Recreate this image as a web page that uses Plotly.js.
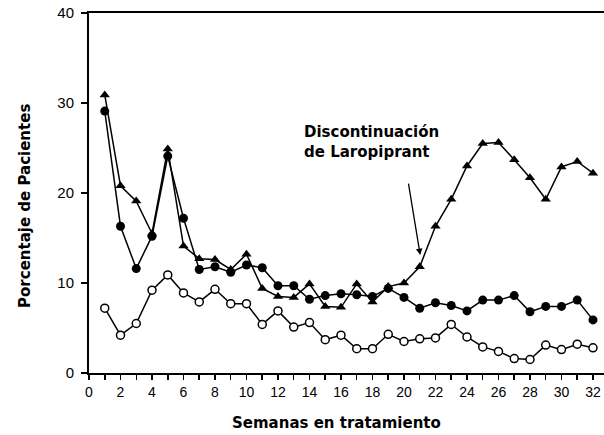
<!DOCTYPE html>
<html>
<head>
<meta charset="utf-8">
<script src="https://cdn.plot.ly/plotly-3.0.1.min.js"></script>
<style>html,body{margin:0;padding:0;background:#fff;}#chart{width:604px;height:435px;}</style>
</head>
<body>
<div id="chart"></div>
<script>
const weeks = [1,2,3,4,5,6,7,8,9,10,11,12,13,14,15,16,17,18,19,20,21,22,23,24,25,26,27,28,29,30,31,32];
const triangleSeries = [30.9,20.8,19.1,15.5,24.9,14.1,12.7,12.6,11.5,13.2,9.4,8.5,8.4,9.9,7.4,7.3,9.9,7.9,9.6,10.0,11.8,16.3,19.3,23.0,25.5,25.6,23.7,21.7,19.3,22.9,23.5,22.2];
const filledSeries = [29.1,16.3,11.6,15.2,24.1,17.2,11.5,11.8,11.2,12.0,11.7,9.7,9.7,8.2,8.6,8.8,8.7,8.5,9.4,8.4,7.2,7.8,7.5,6.9,8.1,8.1,8.6,6.8,7.4,7.4,8.1,5.9];
const openSeries = [7.2,4.2,5.5,9.2,10.9,8.9,7.9,9.3,7.7,7.7,5.4,6.9,5.1,5.6,3.7,4.2,2.7,2.7,4.3,3.5,3.8,3.9,5.4,4.0,2.9,2.4,1.6,1.5,3.1,2.6,3.2,2.8];
const xTickVals = [0,1,2,3,4,5,6,7,8,9,10,11,12,13,14,15,16,17,18,19,20,21,22,23,24,25,26,27,28,29,30,31,32];
const xTickText = ['0','','2','','4','','6','','8','','10','','12','','14','','16','','18','','20','','22','','24','','26','','28','','30','','32'];
const yTickVals = [0,10,20,30,40];
const annotationText = 'Discontinuación<br>de Laropiprant';
const xTitle = 'Semanas en tratamiento';
const yTitle = 'Porcentaje de Pacientes';

const lineStyle = {color:'#000', width:1.5};
const traces = [
  {x:weeks, y:triangleSeries, mode:'lines+markers', line:lineStyle,
   marker:{symbol:'triangle-up', size:9, color:'#000'}},
  {x:weeks, y:filledSeries, mode:'lines+markers', line:lineStyle,
   marker:{symbol:'circle', size:9, color:'#000'}},
  {x:weeks, y:openSeries, mode:'lines+markers', line:lineStyle,
   marker:{symbol:'circle', size:8, color:'#fff', line:{color:'#000', width:1.5}}}
];

const xTickFont = {family:'Liberation Sans, Arial, sans-serif', size:14, color:'#000'};
const yTickFont = {family:'Liberation Sans, Arial, sans-serif', size:15, color:'#000'};

const layout = {
  width:604, height:435,
  margin:{l:89, r:0, t:13, b:62, pad:0},
  paper_bgcolor:'#fff', plot_bgcolor:'#fff',
  showlegend:false,
  xaxis:{range:[0,32.7], tickvals:xTickVals, ticktext:xTickText, ticks:'outside', ticklen:5, tickwidth:1.5,
         tickcolor:'#000', showline:true, linecolor:'#000', linewidth:2, mirror:true,
         showgrid:false, zeroline:false, tickfont:xTickFont, fixedrange:true},
  yaxis:{range:[0,40], tickvals:yTickVals, ticks:'outside', ticklen:6, tickwidth:1.5, tickcolor:'#000',
         showline:true, linecolor:'#000', linewidth:2, showgrid:false, zeroline:false,
         tickfont:yTickFont, ticklabelstandoff:4, fixedrange:true},
  annotations:[
    {xref:'x', yref:'y', x:13.53, y:25.7, text:'<b>'+annotationText+'</b>', showarrow:false,
     xanchor:'left', yanchor:'middle', align:'left',
     font:{family:'DejaVu Sans, sans-serif', size:15, color:'#000'}},
    {xref:'x', yref:'y', axref:'x', ayref:'y', x:21.03, y:13.1, ax:20.27, ay:21.2, text:'',
     showarrow:true, arrowhead:2, arrowsize:1, arrowwidth:1.3, arrowcolor:'#000'},
    {xref:'paper', yref:'paper', x:0.48, y:0, yshift:-50, text:'<b>'+xTitle+'</b>', showarrow:false,
     xanchor:'center', yanchor:'middle', font:{family:'DejaVu Sans, sans-serif', size:15, color:'#000'}},
    {xref:'paper', yref:'paper', x:0, xshift:-64, y:0.464, text:'<b>'+yTitle+'</b>', showarrow:false,
     textangle:-90, xanchor:'center', yanchor:'middle', font:{family:'DejaVu Sans, sans-serif', size:15, color:'#000'}}
  ]
};

Plotly.newPlot('chart', traces, layout, {staticPlot:true, displayModeBar:false});
</script>
</body>
</html>
